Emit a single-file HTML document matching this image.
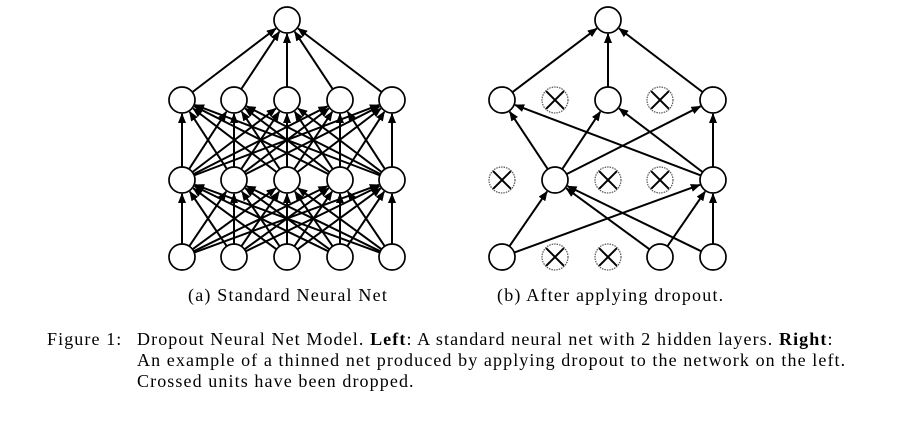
<!DOCTYPE html>
<html><head><meta charset="utf-8"><style>
body{margin:0;background:#fff;width:918px;height:422px;overflow:hidden;font-family:"Liberation Serif",serif;color:#000}
svg{position:absolute;left:0;top:0}
.cap{position:absolute;font-size:18px;letter-spacing:1.1px;white-space:nowrap;line-height:21px}
</style></head><body>
<svg id="s" width="918" height="422">
<defs><marker id="ah" markerWidth="10" markerHeight="10" refX="9" refY="5" orient="auto" markerUnits="userSpaceOnUse"><path d="M0,1 L10,5 L0,9 z" fill="#000"/></marker></defs>
</svg>
<div class="cap" style="left:188px;top:285px;letter-spacing:1.2px">(a) Standard Neural Net</div>
<div class="cap" style="left:497px;top:285px;letter-spacing:1.2px">(b) After applying dropout.</div>
<div class="cap" style="left:47px;top:329px">Figure 1:</div>
<div class="cap" style="left:137px;top:329px">Dropout Neural Net Model. <b>Left</b>: A standard neural net with 2 hidden layers. <b>Right</b>:<br>An example of a thinned net produced by applying dropout to the network on the left.<br>Crossed units have been dropped.</div>
<script>
const leftX=[182,234,287,340,392];
const rightX=[502,555,608,660,713];
const layerY=[257,180,100,20];
const R=13;
const dropH1=[1,3], dropH2=[0,2,3], dropIn=[1,2];
const s=document.getElementById('s');
const NS='http://www.w3.org/2000/svg';
function line(x1,y1,x2,y2){
 const dx=x2-x1,dy=y2-y1,d=Math.hypot(dx,dy);
 const l=document.createElementNS(NS,'line');
 l.setAttribute('x1',x1+dx/d*R);l.setAttribute('y1',y1+dy/d*R);
 l.setAttribute('x2',x2-dx/d*(R+1));l.setAttribute('y2',y2-dy/d*(R+1));
 l.setAttribute('stroke','#000');l.setAttribute('stroke-width','2');
 l.setAttribute('marker-end','url(#ah)');
 
 
 s.appendChild(l);
}
function node(x,y,dropped){
 const c=document.createElementNS(NS,'circle');
 c.setAttribute('cx',x);c.setAttribute('cy',y);c.setAttribute('r',R);
 c.setAttribute('fill','#fff');c.setAttribute('stroke',dropped?'#555':'#000');
 c.setAttribute('stroke-width',dropped?'1.2':'1.7');
 if(dropped)c.setAttribute('stroke-dasharray','1.5,1');
 
 
 s.appendChild(c);
 if(dropped){const k=R*0.68;
  [[-k,-k,k,k],[-k,k,k,-k]].forEach(p=>{const l=document.createElementNS(NS,'line');
  l.setAttribute('x1',x+p[0]);l.setAttribute('y1',y+p[1]);l.setAttribute('x2',x+p[2]);l.setAttribute('y2',y+p[3]);
  l.setAttribute('stroke','#000');l.setAttribute('stroke-width','2');
  
  
  s.appendChild(l);});}
}
for(let L=0;L<2;L++)for(const a of leftX)for(const b of leftX)line(a,layerY[L],b,layerY[L+1]);
for(const a of leftX)line(a,layerY[2],287,layerY[3]);
for(let L=0;L<3;L++)for(const a of leftX)node(a,layerY[L],false);
node(287,layerY[3],false);
const drops=[dropIn,dropH2,dropH1];
const alive=drops.map(d=>rightX.map((x,i)=>i).filter(i=>!d.includes(i)));
for(let L=0;L<2;L++)for(const a of alive[L])for(const b of alive[L+1])line(rightX[a],layerY[L],rightX[b],layerY[L+1]);
for(const a of alive[2])line(rightX[a],layerY[2],608,layerY[3]);
for(let L=0;L<3;L++)rightX.forEach((x,i)=>node(x,layerY[L],drops[L].includes(i)));
node(608,layerY[3],false);
</script>
</body></html>
